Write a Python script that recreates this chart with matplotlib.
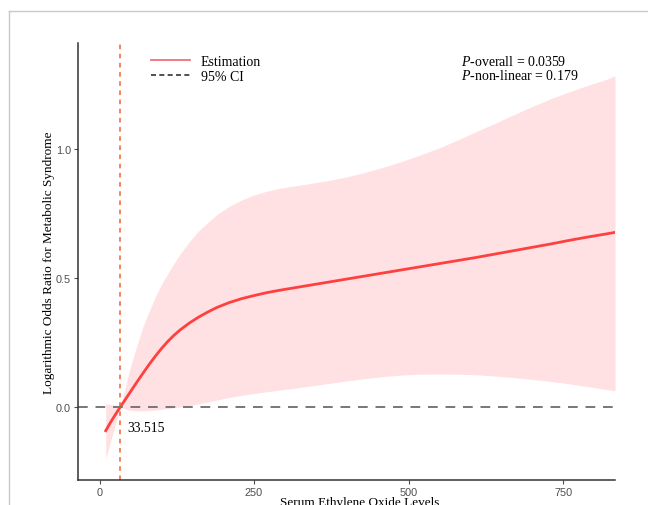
import numpy as np
import matplotlib
matplotlib.use("Agg")
import matplotlib.pyplot as plt
from matplotlib.lines import Line2D

plt.rcParams["font.family"] = ["Liberation Serif", "DejaVu Serif"]
plt.rcParams["mathtext.fontset"] = "custom"
plt.rcParams["mathtext.it"] = "Liberation Serif:italic"
plt.rcParams["mathtext.rm"] = "Liberation Serif"

# valores
eo_level = [10, 15, 20, 25, 30, 33.515, 40, 45, 50, 60, 70, 80, 90, 100, 110, 120, 130,
            145, 160, 175, 190, 210, 230, 250, 270, 290, 310, 340, 370, 400, 430, 460,
            490, 520, 550, 580, 610, 640, 670, 700, 730, 760, 790, 820, 834]
log_or = [-0.092, -0.071, -0.051, -0.032, -0.013, 0.0, 0.023, 0.041, 0.059, 0.095, 0.13,
          0.164, 0.196, 0.226, 0.253, 0.277, 0.298, 0.325, 0.348, 0.368, 0.386, 0.405,
          0.42, 0.432, 0.443, 0.452, 0.46, 0.472, 0.484, 0.496, 0.508, 0.52, 0.532,
          0.544, 0.556, 0.568, 0.58, 0.593, 0.606, 0.619, 0.632, 0.646, 0.659, 0.671, 0.677]
ci_upper = [0.012, 0.011, 0.009, 0.006, 0.003, 0.0, 0.06, 0.11, 0.155, 0.235, 0.31, 0.37,
            0.425, 0.475, 0.515, 0.555, 0.592, 0.64, 0.682, 0.715, 0.746, 0.778, 0.803,
            0.822, 0.836, 0.847, 0.855, 0.866, 0.878, 0.892, 0.91, 0.93, 0.953, 0.978,
            1.005, 1.036, 1.068, 1.1, 1.133, 1.165, 1.195, 1.222, 1.247, 1.27, 1.284]
ci_lower = [-0.2, -0.158, -0.115, -0.072, -0.03, 0.0, -0.006, -0.01, -0.013, -0.015,
            -0.015, -0.014, -0.012, -0.009, -0.006, -0.003, 0.0, 0.005, 0.012, 0.019,
            0.027, 0.037, 0.045, 0.052, 0.059, 0.065, 0.071, 0.081, 0.091, 0.101, 0.11,
            0.118, 0.124, 0.127, 0.128, 0.127, 0.125, 0.12, 0.114, 0.107, 0.099, 0.09,
            0.079, 0.068, 0.063]
ref_point = 33.515
p_overall = "0.0359"
p_nonlinear = "0.179"
x_ticks = [0, 250, 500, 750]
y_ticks = [0.0, 0.5, 1.0]

fig = plt.figure(figsize=(6.48, 5.06), dpi=100)
ax = fig.add_axes([0.1204, 0.0494, 0.8287, 0.8636])

# moldura cinza da captura
fig.add_artist(Line2D([9 / 648, 1], [1 - 11.5 / 506] * 2, color="#c8c8c8", lw=1.0))
fig.add_artist(Line2D([9 / 648] * 2, [0, 1 - 11.5 / 506], color="#c8c8c8", lw=1.0))

ax.fill_between(eo_level, ci_lower, ci_upper, color="#ffe1e3", lw=0)
ax.plot(eo_level, log_or, color="#ff4040", lw=2)
ax.axhline(0, color="#777777", ls=(0, (5, 4)), lw=1.4)
ax.axvline(ref_point, color="#f0622d", ls=(0, (3, 3)), lw=1.1)

ax.annotate(f"{ref_point:.3f}", (ref_point, 0), xytext=(7, -20), textcoords="offset pixels",
            ha="left", va="center", fontsize=9.8)

ax.set_xlim(-34.8, 834)
ax.set_ylim(-0.283, 1.411)
ax.set_xticks(x_ticks)
ax.set_yticks(y_ticks)
ax.set_yticklabels([f"{v:.1f}" for v in y_ticks])
for lab in ax.get_xticklabels() + ax.get_yticklabels():
    lab.set_family(["Liberation Sans", "DejaVu Sans"])
    lab.set_fontsize(7.8)
    lab.set_color("#4d4d4d")
ax.tick_params(length=3, width=0.8, color="#4d4d4d", pad=2)

for s in ["top", "right"]:
    ax.spines[s].set_visible(False)
for s in ["left", "bottom"]:
    ax.spines[s].set_color("#333333")
    ax.spines[s].set_linewidth(1.1)

ax.set_ylabel("Logarithmic Odds Ratio for Metabolic Syndrome", fontsize=9.5)
ax.yaxis.set_label_coords(-0.043, 0.5)
ax.set_xlabel("Serum Ethylene Oxide Levels", fontsize=9.5)
ax.xaxis.set_label_coords(0.525, -0.0366)

handles = [Line2D([], [], color="#f0707a", lw=1.3),
           Line2D([], [], color="#333333", lw=1.2, ls=(0, (3, 2)))]
ax.legend(handles, ["Estimation", "95% CI"], loc="upper left", bbox_to_anchor=(0.11, 1.005),
          frameon=False, fontsize=10, handlelength=2.8, labelspacing=0.15, borderpad=0.5)

ax.text(0.713, 0.9588, f"$P$-overall = {p_overall}", transform=ax.transAxes,
        fontsize=10, va="center", ha="left")
ax.text(0.713, 0.9268, f"$P$-non-linear = {p_nonlinear}", transform=ax.transAxes,
        fontsize=10, va="center", ha="left")

fig.savefig("out.png", dpi=100)
